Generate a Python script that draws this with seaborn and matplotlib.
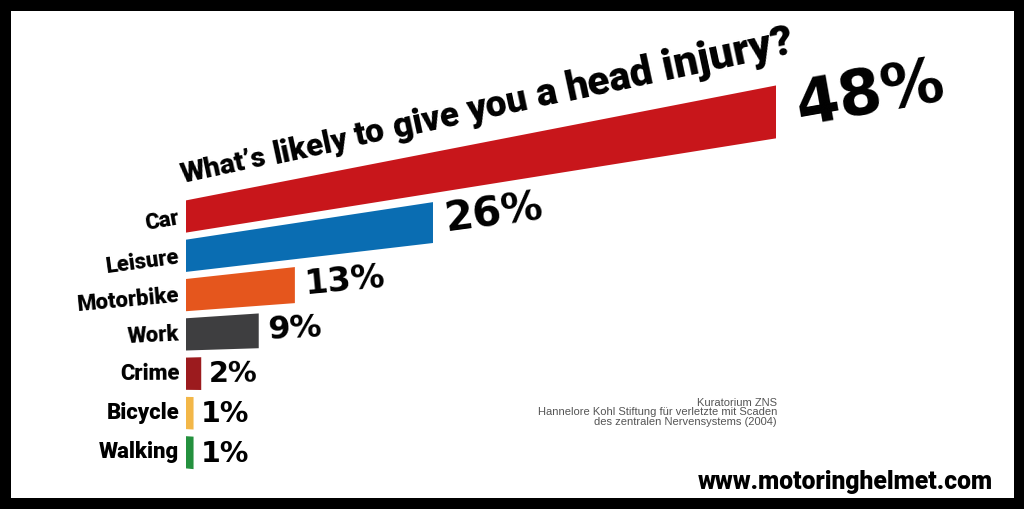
import numpy as np
import matplotlib
matplotlib.use("Agg")
import matplotlib.pyplot as plt
import matplotlib.transforms as mtransforms
import seaborn as sns

categories = ["Car", "Leisure", "Motorbike", "Work", "Crime", "Bicycle", "Walking"]
shares = [48, 26, 13, 9, 2, 1, 1]
colors = ["#C8161B", "#0A6DB2", "#E5561D", "#3E3E40", "#9C1B1E", "#F3B748", "#24913E"]
title = "What\u2019s likely to give you a head injury?"
source = ("Kuratorium ZNS\n"
          "Hannelore Kohl Stiftung f\u00fcr verletzte mit Scaden\n"
          "des zentralen Nervensystems (2004)")
site = "www.motoringhelmet.com"

W_PX, H_PX = 1024, 509
wide = ["DejaVu Sans"]
heavy = ["Roboto", "Liberation Sans", "DejaVu Sans"]
narrow = ["Liberation Sans Narrow", "Liberation Sans", "DejaVu Sans"]

# the flat chart (value u, row v) is seen in one point perspective,
# right side closer to the eye -> maps straight to output pixels
A, C, X0 = 5.975, -0.00814, 186.0
HU, SV, Y0 = -3.09, 39.3, 216.5


class Tilt(mtransforms.Transform):
    input_dims = 2
    output_dims = 2

    def transform_non_affine(self, values):
        vals = np.asarray(values, dtype=float)
        flat = vals.reshape(-1, 2)
        u, v = flat[:, 0], flat[:, 1]
        w = 1 + C * u
        x = (A * u + X0) / w
        y = (HU * u + SV * v + Y0) / w
        out = np.column_stack([x, H_PX - y])
        return out.reshape(vals.shape)


tilt = Tilt()

fig = plt.figure(figsize=(W_PX / 100, H_PX / 100), dpi=100, facecolor="black")
ax = fig.add_axes([11 / W_PX, 11 / H_PX, 1003 / W_PX, 487 / H_PX])
ax.set_facecolor("white")

sns.barplot(x=shares, y=categories, hue=categories, palette=colors,
            width=0.82, saturation=1, legend=False, linewidth=0, ax=ax)
for bar in ax.patches:
    bar.set_transform(tilt)
    bar.set_clip_on(False)

ax.set_xticks([])
ax.set_yticks([])
ax.set_xlabel("")
ax.set_ylabel("")
for sp in ax.spines.values():
    sp.set_visible(False)


def local(u, v):
    p0 = tilt.transform(np.array([[u, v]]))[0]
    p1 = tilt.transform(np.array([[u + 0.01, v]]))[0]
    ang = np.degrees(np.arctan2(p1[1] - p0[1], p1[0] - p0[0]))
    return p0, ang, 1.0 / (1 + C * u)


def tilted_text(u, v, s, size, grow=1.0, flat_floor=True, **kw):
    p, ang, k = local(u, v)
    if flat_floor:
        ang = max(ang, 0.0)
    return ax.text(u, v, s, transform=tilt, fontsize=size * k ** grow, rotation=ang,
                   rotation_mode="anchor", clip_on=False, **kw)


# title, word by word so it grows with the perspective
renderer = fig.canvas.get_renderer()
u, v_title = -0.4, -0.86
for word in title.split():
    t = tilted_text(u, v_title, word, 20.5, flat_floor=False, ha="left", va="baseline",
                    family=heavy, fontweight="black", color="black")
    wpx, _, _ = renderer.get_text_width_height_descent(word, t.get_fontproperties(), ismath=False)
    p, ang, k = local(u, v_title)
    gap = 0.25 * t.get_fontsize() * fig.dpi / 72
    x1 = p[0] + (wpx + gap) * np.cos(np.radians(ang))
    u = (x1 - X0) / (A - C * x1)

for i, (name, val) in enumerate(zip(categories, shares)):
    tilted_text(-0.9, i, name, 16, ha="right", va="center",
                family=heavy, fontweight="black", color="black")
    tilted_text(val + 1.0, i, f"{val}%", 20, grow=1.6, ha="left", va="center",
                family=wide, fontweight="bold", color="black")

fig.text(777 / W_PX, 1 - 398 / H_PX, source, ha="right", va="top",
         fontsize=8, linespacing=0.93, color="#555555", family=narrow)
fig.text(993 / W_PX, 1 - 489 / H_PX, site, ha="right", va="baseline",
         fontsize=17.7, fontweight="black", color="black", family=heavy)

fig.savefig("out.png", dpi=100, facecolor="black")
